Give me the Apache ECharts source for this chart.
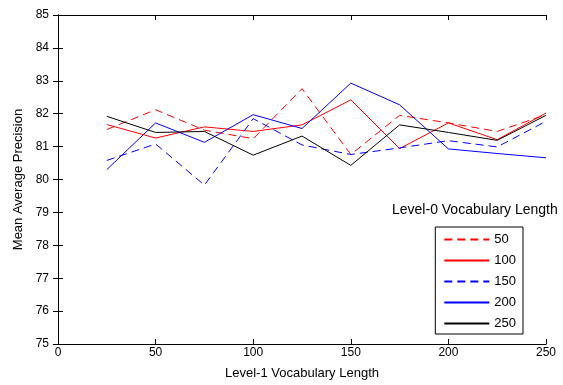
<!DOCTYPE html>
<html><head><meta charset="utf-8">
<script src="https://cdn.jsdelivr.net/npm/echarts@6/dist/echarts.min.js"></script>
<style>html,body{margin:0;padding:0;background:#fff}#c{width:563px;height:385px}</style>
</head><body><div id="c"></div>
<script>
const xValues = [25, 50, 75, 100, 125, 150, 175, 200, 225, 250];
const seriesNames = ['50', '100', '150', '200', '250'];
const s50  = [81.52, 82.12, 81.50, 81.24, 82.76, 80.76, 81.95, 81.72, 81.46, 81.97];
const s100 = [81.67, 81.26, 81.60, 81.46, 81.66, 82.42, 80.94, 81.72, 81.21, 82.02];
const s150 = [80.58, 81.08, 79.83, 81.85, 81.05, 80.76, 80.96, 81.18, 80.99, 81.77];
const s200 = [80.30, 81.72, 81.13, 81.97, 81.55, 82.93, 82.27, 80.93, 80.79, 80.66];
const s250 = [81.92, 81.43, 81.46, 80.74, 81.32, 80.43, 81.66, 81.43, 81.19, 81.95];
const xTicks = [0, 50, 100, 150, 200, 250];
const yTicks = [75, 76, 77, 78, 79, 80, 81, 82, 83, 84, 85];
const legendTitle = 'Level-0 Vocabulary Length';
const xName = 'Level-1 Vocabulary Length';
const yName = 'Mean Average Precision';

const allData = [s50, s100, s150, s200, s250];
const colors = ['#ff0000', '#ff0000', '#0000ff', '#0000ff', '#000000'];
const dashed = [true, false, true, false, false];
const font = 'Liberation Sans, Arial, sans-serif';

const chart = echarts.init(document.getElementById('c'), null, {renderer: 'canvas'});
const axisCommon = {
  axisLine: {show: true, lineStyle: {color: '#000', width: 1}},
  axisTick: {show: true, inside: true, length: 5, lineStyle: {color: '#000'}},
  splitLine: {show: false},
  axisLabel: {color: '#000', fontSize: 12, fontFamily: font}
};
chart.setOption({
  animation: false,
  backgroundColor: '#fff',
  grid: {left: 58, top: 15, right: 17, bottom: 40, containLabel: false},
  xAxis: [
    Object.assign({}, axisCommon, {type: 'value', min: 0, max: 250, interval: 50, position: 'bottom',
      name: xName, nameLocation: 'middle', nameGap: 23,
      nameTextStyle: {color: '#000', fontSize: 13, fontFamily: font},
      axisLabel: Object.assign({}, axisCommon.axisLabel, {margin: 3,
        formatter: v => xTicks.indexOf(v) >= 0 ? String(v) : ''})}),
    Object.assign({}, axisCommon, {type: 'value', min: 0, max: 250, interval: 50, position: 'top',
      axisLabel: {show: false}})
  ],
  yAxis: [
    Object.assign({}, axisCommon, {type: 'value', min: 75, max: 85, interval: 1, position: 'left',
      name: yName, nameLocation: 'middle', nameGap: 32, nameRotate: 90,
      nameTextStyle: {color: '#000', fontSize: 13, fontFamily: font},
      axisLabel: Object.assign({}, axisCommon.axisLabel, {margin: 9,
        formatter: v => yTicks.indexOf(v) >= 0 ? String(v) : ''})}),
    Object.assign({}, axisCommon, {type: 'value', min: 75, max: 85, interval: 1, position: 'right',
      axisLabel: {show: false}})
  ],
  legend: {
    show: true, orient: 'vertical', right: 40, top: 227,
    data: seriesNames,
    itemWidth: 45, itemHeight: 12, itemGap: 8,
    borderColor: '#000', borderWidth: 1, padding: [6, 7, 4, 8],
    backgroundColor: '#fff',
    itemStyle: {opacity: 0, color: 'transparent', borderWidth: 0},
    textStyle: {color: '#000', fontSize: 13, lineHeight: 12, fontFamily: font}
  },
  graphic: [{
    type: 'text', left: 392, top: 203,
    style: {text: legendTitle, fill: '#000', font: '14px ' + font}
  }],
  series: allData.map((d, i) => ({
    name: seriesNames[i], type: 'line', xAxisIndex: 0, yAxisIndex: 0,
    data: xValues.map((x, j) => [x, d[j]]),
    symbol: 'none', showSymbol: false,
    lineStyle: {color: colors[i], width: 1, type: dashed[i] ? [8, 5] : 'solid'},
    itemStyle: {color: colors[i]}
  }))
});
</script></body></html>
